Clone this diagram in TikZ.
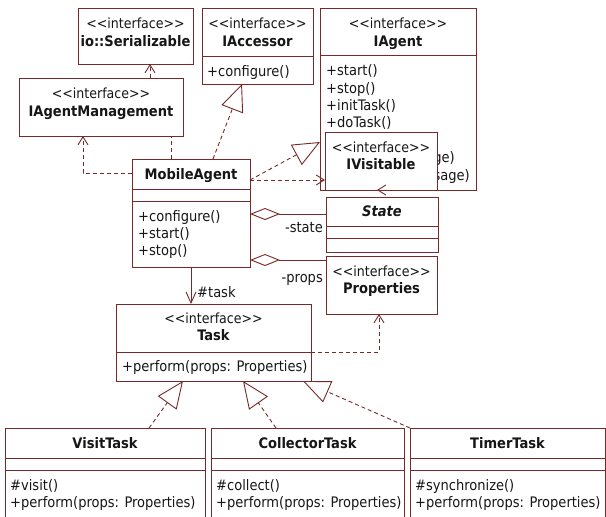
\documentclass[tikz,border=0pt]{standalone}
\usepackage{fontspec}
\setmainfont{DejaVu Sans Condensed}
\usetikzlibrary{arrows.meta,calc}
\definecolor{ln}{RGB}{120,42,42}
\definecolor{tx}{RGB}{22,22,22}
\newcommand{\stereotype}{<\kern0pt<interface>\kern0pt>}

\begin{document}
\begin{tikzpicture}[x=1pt,y=-1pt,
  cls/.style={draw=ln, line width=0.9pt, fill=white, anchor=north west, inner sep=0pt, outer sep=0pt},
  sep/.style={draw=ln, line width=0.9pt},
  st/.style={font=\fontsize{14}{16}\selectfont, text=tx, inner sep=0pt, anchor=base},
  nm/.style={font=\bfseries\fontsize{14.5}{16}\selectfont, text=tx, inner sep=0pt, anchor=base},
  mb/.style={font=\fontsize{14.5}{17}\selectfont, text=tx, inner sep=0pt, anchor=base west},
  conn/.style={draw=ln, line width=0.9pt},
  dsh/.style={conn, dash pattern=on 4pt off 3pt},
  real/.style={dsh, -{Triangle[length=27pt, width=23pt, fill=white, line join=miter]}},
  dep/.style={dsh, -{Straight Barb[length=8pt, width=10pt]}},
  nav/.style={conn, -{Straight Barb[length=11pt, width=10pt]}},
  agg/.style={conn, {Diamond[length=30pt, width=12pt, fill=white]}-},
]
\path[use as bounding box] (0,0) rectangle (606,517);
\clip (0,0) rectangle (606,517);

% ---- io::Serializable
\node[cls, minimum width=115pt, minimum height=56pt] (ser) at (78,8) {};
\node[st] (serS) at (135.5,28) {\stereotype};
\node[nm] (serN) at (135.5,46) {io::Serializable};

% ---- IAccessor
\node[cls, minimum width=111pt, minimum height=76pt] (acc) at (202,8) {};
\draw[sep] (acc.west |- 0,56) -- (acc.east |- 0,56);
\node[st] (accS) at (257.5,28) {\stereotype};
\node[nm] (accN) at (257.5,46) {IAccessor};
\node[mb] (accM) at (207,76) {+configure()};

% ---- IAgent (its last two operations run on behind IVisitable)
\node[cls, minimum width=156pt, minimum height=182pt] (agt) at (320,8) {};
\draw[sep] (agt.west |- 0,55) -- (agt.east |- 0,55);
\node[st] (agtS) at (398,28) {\stereotype};
\node[nm] (agtN) at (398,46) {IAgent};
\node[mb] (agtM1) at (326,75) {+start()};
\node[mb] (agtM2) at (326,93) {+stop()};
\node[mb] (agtM3) at (326,110) {+initTask()};
\node[mb] (agtM4) at (326,127) {+doTask()};
\node[mb, anchor=base east] (agtM5) at (455,162) {ge)};
\node[mb, anchor=base east] (agtM6) at (470,180) {sage)};

% ---- IAgentManagement
\node[cls, minimum width=164pt, minimum height=58pt] (mgmt) at (19,78) {};
\node[st] (mgmtS) at (101,98) {\stereotype};
\node[nm] (mgmtN) at (101,116) {IAgentManagement};

% ---- IVisitable
\node[cls, minimum width=112pt, minimum height=58pt] (vis) at (325,132) {};
\node[st] (visS) at (381,152) {\stereotype};
\node[nm] (visN) at (381,169) {IVisitable};

% ---- MobileAgent
\node[cls, minimum width=118pt, minimum height=108pt] (ma) at (132,159) {};
\draw[sep] (ma.west |- 0,189) -- (ma.east |- 0,189);
\draw[sep] (ma.west |- 0,201) -- (ma.east |- 0,201);
\node[nm] (maN) at (191,179) {MobileAgent};
\node[mb] (maM1) at (138,221) {+configure()};
\node[mb] (maM2) at (138,238) {+start()};
\node[mb] (maM3) at (138,255) {+stop()};

% ---- State
\node[cls, minimum width=112pt, minimum height=55pt] (state) at (326,197) {};
\draw[sep] (state.west |- 0,226) -- (state.east |- 0,226);
\draw[sep] (state.west |- 0,238) -- (state.east |- 0,238);
\node[nm, font=\bfseries\itshape\fontsize{14.5}{16}\selectfont] (stateN) at (382,216) {State};

% ---- Properties
\node[cls, minimum width=111pt, minimum height=58pt] (props) at (326,256) {};
\node[st] (propsS) at (381.5,276) {\stereotype};
\node[nm] (propsN) at (381.5,293) {Properties};

% ---- Task
\node[cls, minimum width=195pt, minimum height=77pt] (task) at (116,304) {};
\draw[sep] (task.west |- 0,352) -- (task.east |- 0,352);
\node[st] (taskS) at (213.5,323) {\stereotype};
\node[nm] (taskN) at (213.5,340) {Task};
\node[mb] (taskM) at (122,371) {+perform(props: Properties)};

% ---- VisitTask, CollectorTask, TimerTask
\node[cls, minimum width=200pt, minimum height=120pt] (vt) at (5,428) {};
\node[cls, minimum width=193pt, minimum height=120pt] (ct) at (211,428) {};
\node[cls, minimum width=195pt, minimum height=120pt] (tt) at (410,428) {};
\foreach \b in {vt,ct,tt}{
  \draw[sep] (\b.west |- 0,458) -- (\b.east |- 0,458);
  \draw[sep] (\b.west |- 0,470) -- (\b.east |- 0,470);
}
\node[nm] (vtN) at (105,448) {VisitTask};
\node[mb] (vtM1) at (10,490) {\#visit()};
\node[mb] (vtM2) at (10,507) {+perform(props: Properties)};
\node[nm] (ctN) at (307.5,448) {CollectorTask};
\node[mb] (ctM1) at (216,490) {\#collect()};
\node[mb] (ctM2) at (216,507) {+perform(props: Properties)};
\node[nm] (ttN) at (507.5,448) {TimerTask};
\node[mb] (ttM1) at (415,490) {\#synchronize()};
\node[mb] (ttM2) at (415,507) {+perform(props: Properties)};

% ---- connectors
\draw[dep] ($(mgmt.north west)+(131,0)$) -- ($(ser.south west)+(72,0)$);
\draw[dep] ($(ma.north west)+(0,14)$) -| ($(mgmt.south west)+(64,0)$);
\draw[dsh] ($(ma.north west)+(39,0)$) -- ($(mgmt.south west)+(152,0)$);
\draw[real] ($(ma.north west)+(81,0)$) -- ($(acc.south west)+(40,0)$);
\draw[real] ($(ma.north east)+(0,21)$) -- ($(agt.north west)+(0,134)$);
\draw[dep] ($(ma.north east)+(0,21)$) -- ($(vis.north west)+(0,48)$);
\draw[dep] ($(vis.south west)+(64,0)$) -- ($(vis.south west)+(52,0)$);

\draw[agg] ($(ma.north east)+(0,55)$) -- ($(state.north west)+(0,17)$);
\node[mb, anchor=base east] (stateL) at (323,232) {-state};
\draw[agg] ($(ma.north east)+(0,101)$) -- ($(props.north west)+(0,4)$);
\node[mb, anchor=base east] (propsL) at (323,282) {-props};

\draw[nav] ($(ma.south west)+(59,0)$) -- ($(task.north west)+(75,0)$);
\node[mb] (taskL) at (197,297) {\#task};
\draw[dep] ($(task.north east)+(0,48)$) -| ($(props.south west)+(53,0)$);

\draw[real] ($(vt.north west)+(144,0)$) -- ($(task.south west)+(67,0)$);
\draw[real] ($(ct.north west)+(65,0)$) -- ($(task.south west)+(127,0)$);
\draw[real] (tt.north west) -- ($(task.south west)+(187,0)$);
\end{tikzpicture}
\end{document}
